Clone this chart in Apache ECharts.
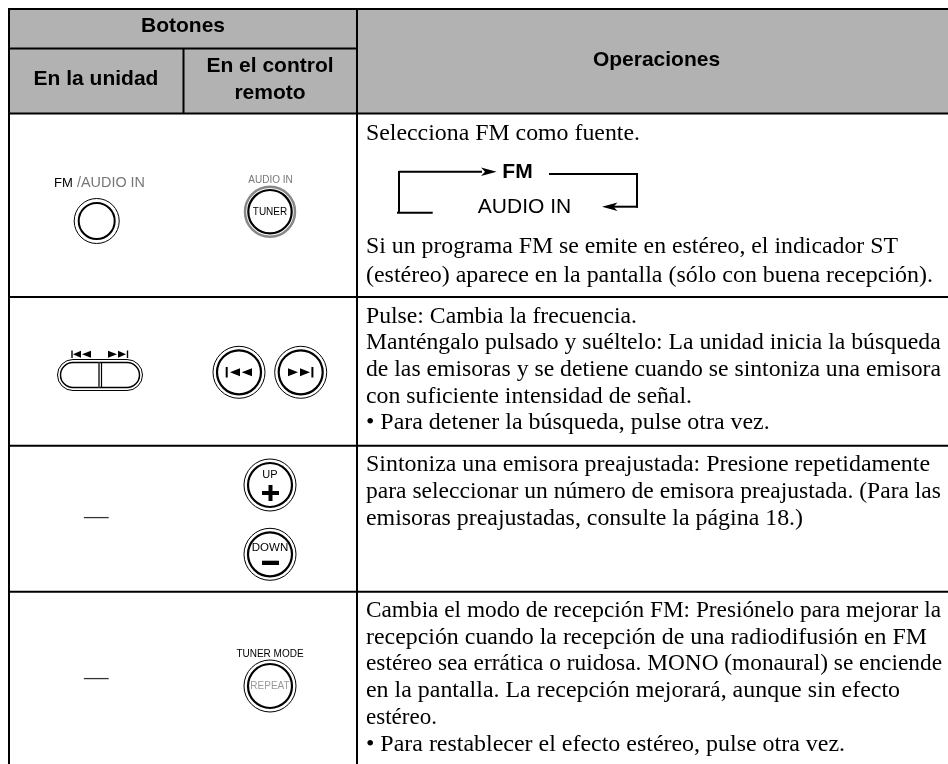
<!DOCTYPE html>
<html><head><meta charset="utf-8">
<style>html,body{margin:0;padding:0;background:#fff}#c{width:948px;height:764px}</style>
<script src="https://cdn.jsdelivr.net/npm/echarts@6/dist/echarts.min.js"></script>
</head><body><div id="c"></div>
<script>
var headerTop = "Botones";
var headerUnit = "En la unidad";
var headerRemote = ["En el control", "remoto"];
var headerOps = "Operaciones";
var row1Intro = ["Selecciona FM como fuente."];
var row1Cycle = ["FM", "AUDIO IN"];
var row1Text = ["Si un programa FM se emite en estéreo, el indicador ST", "(estéreo) aparece en la pantalla (sólo con buena recepción)."];
var row2Text = ["Pulse: Cambia la frecuencia.", "Manténgalo pulsado y suéltelo: La unidad inicia la búsqueda", "de las emisoras y se detiene cuando se sintoniza una emisora", "con suficiente intensidad de señal.", "• Para detener la búsqueda, pulse otra vez."];
var row3Text = ["Sintoniza una emisora preajustada: Presione repetidamente", "para seleccionar un número de emisora preajustada. (Para las", "emisoras preajustadas, consulte la página 18.)"];
var row4Text = ["Cambia el modo de recepción FM: Presiónelo para mejorar la", "recepción cuando la recepción de una radiodifusión en FM", "estéreo sea errática o ruidosa. MONO (monaural) se enciende", "en la pantalla. La recepción mejorará, aunque sin efecto", "estéreo.", "• Para restablecer el efecto estéreo, pulse otra vez."];
var dashLabel = "—";
var btnLabels = {fm:"FM", audioA:"/AUDIO IN", audioB:"AUDIO IN", tuner:"TUNER", up:"UP", down:"DOWN", mode:"TUNER MODE", repeat:"REPEAT"};

// layout only: right end of each body line, used to fit the line's width
var introEnds = [640];
var row1Ends = [898, 933];
var row2Ends = [637, 940.7, 941, 692, 769.7];
var row3Ends = [930, 941, 803];
var row4Ends = [941, 927, 942, 900, 437, 845];

var els = [];
var SANS = '"Liberation Sans", Arial, sans-serif', SERIF = '"Liberation Serif", "Times New Roman", serif';
var ctx = document.createElement('canvas').getContext('2d');
function rect(x,y,w,h,fill){els.push({type:'rect',silent:true,shape:{x:x,y:y,width:w,height:h},style:{fill:fill}});}
function line(x1,y1,x2,y2,w,c){els.push({type:'line',silent:true,shape:{x1:x1,y1:y1,x2:x2,y2:y2},style:{stroke:c||'#000',lineWidth:w||2}});}
function text(t,x,y,size,opt){opt=opt||{};var f=(opt.bold?'bold ':'')+size+'px '+(opt.family||SANS);var e={type:'text',silent:true,x:x,y:y,style:{text:t,fill:opt.fill||'#000',font:f,align:opt.align||'left',verticalAlign:'middle'}};if(opt.end){ctx.font=f;e.scaleX=(opt.end-x)/ctx.measureText(t).width;}els.push(e);}
function ring(cx,cy,r,w,c,fill){els.push({type:'circle',silent:true,shape:{cx:cx,cy:cy,r:r},style:{stroke:c||'#000',lineWidth:w,fill:fill||'none'}});}
function poly(pts,fill){els.push({type:'polygon',silent:true,shape:{points:pts},style:{fill:fill||'#000'}});}
function para(lines,ends,x,base,lh){lines.forEach(function(l,i){text(l,x,base-6.8+i*lh,24,{family:SERIF,end:ends[i]});});}
function button(cx,cy){ring(cx,cy,26,1,'#000');ring(cx,cy,22,2.2,'#000');}

// header fill
rect(9,9,939,104.5,'#b2b2b2');
// grid lines
var L=9,R=948,T=9,B=764,C1=183.5,C2=357;
[T,113.5,297,445.7,591.7].forEach(function(y){line(L-1,y,R,y,2);});
line(L,48.5,C2,48.5,2);
[L,C2].forEach(function(x){line(x,T,x,B,2);});
line(C1,48.5,C1,113.5,2);
// header text
text(headerTop,183,26,21,{bold:true,align:'center'});
text(headerUnit,96,79.5,21,{bold:true,align:'center'});
text(headerRemote[0],270,66.5,21,{bold:true,align:'center'});
text(headerRemote[1],270,93,21,{bold:true,align:'center'});
text(headerOps,656.5,60,21,{bold:true,align:'center'});
// row 1
para(row1Intro,introEnds,366,140.7,27);
para(row1Text,row1Ends,366,253.3,29.3);
text(row1Cycle[0],517.5,172,21,{bold:true,align:'center'});
text(row1Cycle[1],524.5,207,21,{align:'center'});
line(399,171.7,482,171.7,2);line(399,171,399,213,2);line(397,212.7,432.7,212.7,2);
poly([[496.7,171.7],[481,167.5],[485,171.7],[481,176]]);
line(549,174,638,174,2);line(637,173,637,207.7,2);line(612,206.7,638,206.7,2);
poly([[602,206.7],[617.5,202.5],[613.5,206.7],[617.5,211]]);
// FM/AUDIO
text(btnLabels.fm,54,183,13,{});
text(btnLabels.audioA,77,183,14.4,{fill:'#777'});
ring(96.7,221,22.5,1,'#000');ring(96.7,221,18,2,'#000');
// tuner
text(btnLabels.audioB,270.5,180,10,{fill:'#777',align:'center'});
ring(270,211.7,25,2.5,'#888');ring(270,211.7,21.7,2.2,'#000');
text(btnLabels.tuner,270,212,10,{align:'center'});
// row 2 unit
function tri(x,y,d,s,h){h=h||3.5;poly([[x,y],[x+d*s,y-h],[x+d*s,y+h]]);}
line(72,350.5,72,358,1.4);tri(73,354.3,1,8);tri(82,354.3,1,9);
line(127.5,350.5,127.5,358,1.4);tri(126,354.3,-1,8);tri(117,354.3,-1,9);
els.push({type:'rect',silent:true,shape:{x:57.5,y:359.5,width:85,height:31,r:15.5},style:{stroke:'#000',lineWidth:1,fill:'none'}});
els.push({type:'rect',silent:true,shape:{x:60.5,y:362.5,width:79,height:25,r:12.5},style:{stroke:'#000',lineWidth:1.5,fill:'none'}});
line(99,362,99,388,1.6,'#333');line(101.5,362,101.5,388,1.2);
// row 2 remote
button(239,372.3);button(300.7,372.3);
line(226.7,367,226.7,377.5,2);tri(230,372.3,1,10,4);tri(241.7,372.3,1,10.3,4);
line(312.4,367,312.4,377.5,2);tri(298,372.3,-1,10,4);tri(310,372.3,-1,10,4);
para(row2Text,row2Ends,366,323.3,26.6);
// row 3
button(270,485);
text(btnLabels.up,270,475,11,{align:'center'});
line(270.5,485,270.5,501,4);line(262,493,279,493,4);
button(270,554.3);
text(btnLabels.down,270,548,11.5,{align:'center'});
rect(262,560.7,17,4.3,'#000');
text(dashLabel,96.3,518,24.5,{align:'center',fill:'#333',family:SERIF});
para(row3Text,row3Ends,366,472,26.8);
// row 4
text(dashLabel,96.3,679,24.5,{align:'center',fill:'#333',family:SERIF});
text(btnLabels.mode,270,654,10,{align:'center'});
button(270,686);
text(btnLabels.repeat,270,686,10,{align:'center',fill:'#999'});
para(row4Text,row4Ends,366,617.3,26.75);

var chart = echarts.init(document.getElementById('c'),null,{renderer:'canvas'});
chart.setOption({animation:false,backgroundColor:'#fff',graphic:{elements:els}});
</script></body></html>
